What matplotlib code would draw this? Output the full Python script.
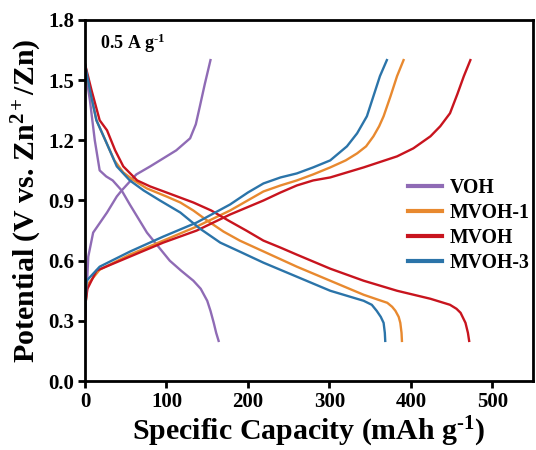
import matplotlib
matplotlib.use("Agg")
import matplotlib.pyplot as plt

plt.rcParams['font.family'] = ['Liberation Serif', 'DejaVu Serif']
plt.rcParams['font.weight'] = 'bold'
plt.rcParams['mathtext.fontset'] = 'custom'
plt.rcParams['mathtext.rm'] = 'Liberation Serif:bold'
plt.rcParams['mathtext.bf'] = 'Liberation Serif:bold'
plt.rcParams['mathtext.it'] = 'Liberation Serif:bold:italic'
plt.rcParams['mathtext.default'] = 'rm'

# ---- data ----
voh_dis_cap = [0, 3, 6, 12, 18, 26, 34, 45, 55, 76, 90, 104, 118, 133, 142, 150, 154, 158, 161, 164]
voh_dis_v = [1.58, 1.48, 1.40, 1.20, 1.05, 1.02, 1.00, 0.95, 0.88, 0.74, 0.67, 0.60, 0.55, 0.50, 0.46, 0.40, 0.35, 0.29, 0.24, 0.20]
voh_chg_cap = [0, 1, 2, 4, 10, 27, 39, 45, 63, 80, 96, 112, 129, 136, 141, 147, 154]
voh_chg_v = [0.30, 0.40, 0.45, 0.62, 0.74, 0.84, 0.92, 0.95, 1.03, 1.07, 1.11, 1.15, 1.21, 1.28, 1.37, 1.48, 1.60]

mvoh1_dis_cap = [0, 6, 14, 25, 36, 47, 60, 76, 100, 117, 133, 150, 170, 190, 225, 260, 301, 342, 360, 371, 377, 381, 385, 387, 388.5, 389]
mvoh1_dis_v = [1.58, 1.45, 1.30, 1.20, 1.10, 1.04, 1.00, 0.96, 0.92, 0.89, 0.85, 0.80, 0.745, 0.70, 0.635, 0.57, 0.50, 0.43, 0.405, 0.39, 0.37, 0.35, 0.32, 0.29, 0.24, 0.20]
mvoh1_chg_cap = [0, 1, 3, 18, 55, 96, 137, 178, 219, 240, 260, 280, 301, 320, 334, 345, 354, 361, 366.5, 375, 383, 391]
mvoh1_chg_v = [0.30, 0.40, 0.48, 0.555, 0.63, 0.70, 0.77, 0.85, 0.945, 0.975, 1.00, 1.03, 1.065, 1.10, 1.135, 1.17, 1.22, 1.27, 1.32, 1.42, 1.52, 1.60]

mvoh_dis_cap = [0, 8, 18, 27, 37, 47, 64, 80, 100, 133, 155, 176, 198, 219, 240, 260, 301, 342, 383, 424, 448, 456, 461, 467, 470, 471.5]
mvoh_dis_v = [1.58, 1.45, 1.30, 1.25, 1.15, 1.07, 1.00, 0.97, 0.94, 0.89, 0.85, 0.80, 0.75, 0.70, 0.665, 0.63, 0.56, 0.50, 0.45, 0.41, 0.38, 0.36, 0.34, 0.29, 0.24, 0.20]
mvoh_chg_cap = [0, 1, 3, 14, 55, 96, 137, 178, 219, 240, 260, 280, 301, 342, 383, 403, 424, 436, 448, 457, 465, 473]
mvoh_chg_v = [0.30, 0.40, 0.46, 0.55, 0.62, 0.69, 0.75, 0.83, 0.90, 0.94, 0.975, 1.00, 1.015, 1.065, 1.12, 1.16, 1.22, 1.27, 1.335, 1.43, 1.52, 1.60]

mvoh3_dis_cap = [0, 6, 14, 25, 39, 55, 72, 92, 117, 141, 166, 190, 219, 260, 301, 342, 352, 358, 363, 366.5, 368, 368.5]
mvoh3_dis_v = [1.58, 1.45, 1.30, 1.20, 1.07, 1.00, 0.95, 0.90, 0.84, 0.76, 0.69, 0.645, 0.59, 0.52, 0.45, 0.40, 0.38, 0.35, 0.32, 0.29, 0.24, 0.20]
mvoh3_chg_cap = [0, 1, 2, 18, 55, 96, 137, 178, 200, 219, 240, 260, 280, 301, 321.5, 334, 346, 354, 362, 370.5]
mvoh3_chg_v = [0.30, 0.42, 0.50, 0.57, 0.645, 0.72, 0.79, 0.88, 0.94, 0.985, 1.015, 1.035, 1.065, 1.10, 1.17, 1.235, 1.32, 1.42, 1.52, 1.60]

labels = ['VOH', 'MVOH-1', 'MVOH', 'MVOH-3']
colors = ['#8f6bb5', '#e8892f', '#c8141e', '#2b74a9']

x_ticks = [0, 100, 200, 300, 400, 500]
y_ticks = [0.0, 0.3, 0.6, 0.9, 1.2, 1.5, 1.8]

series = [
    (voh_dis_cap, voh_dis_v, voh_chg_cap, voh_chg_v),
    (mvoh1_dis_cap, mvoh1_dis_v, mvoh1_chg_cap, mvoh1_chg_v),
    (mvoh_dis_cap, mvoh_dis_v, mvoh_chg_cap, mvoh_chg_v),
    (mvoh3_dis_cap, mvoh3_dis_v, mvoh3_chg_cap, mvoh3_chg_v),
]

fig = plt.figure(figsize=(5.36, 4.5), dpi=100)
ax = fig.add_axes([0.1586, 0.1533, 0.836, 0.8023])

for (dc, dv, cc, cv), lab, col in zip(series, labels, colors):
    ax.plot(dc, dv, color=col, lw=1.7, label=lab, solid_joinstyle='round')
    ax.plot(cc, cv, color=col, lw=1.7, solid_joinstyle='round')

ax.set_xlim(0, 550)
ax.set_ylim(0, 1.8)
ax.set_xticks(x_ticks)
ax.set_yticks(y_ticks)
ax.set_yticklabels([f"{v:.1f}" for v in y_ticks])
ax.tick_params(direction='out', length=5, width=2, labelsize=15, pad=3)
for lab in ax.get_xticklabels() + ax.get_yticklabels():
    lab.set_fontweight('bold')
for s in ax.spines.values():
    s.set_linewidth(2)

ax.set_xlabel(r'Specific Capacity (mAh g$^{\text{-}1}$)', fontsize=21.5, fontweight='bold', labelpad=2)
ax.set_ylabel('Potential (V vs. Zn$^{2+}$/Zn)', fontsize=21.5, fontweight='bold', labelpad=3)

ax.text(0.033, 0.935, r'0.5 A g$^{\text{-}1}$', transform=ax.transAxes, fontsize=13,
        fontweight='bold', va='center', ha='left')

handles, labs = ax.get_legend_handles_labels()
leg = ax.legend(handles, labs, loc='upper left', bbox_to_anchor=(0.703, 0.584),
                frameon=False, fontsize=14.2, handlelength=1.72, handletextpad=0.41,
                labelspacing=0.25, borderaxespad=0)
for h in leg.get_lines():
    h.set_linewidth(3)
for t in leg.get_texts():
    t.set_fontweight('bold')

fig.savefig('out.png', dpi=100)
